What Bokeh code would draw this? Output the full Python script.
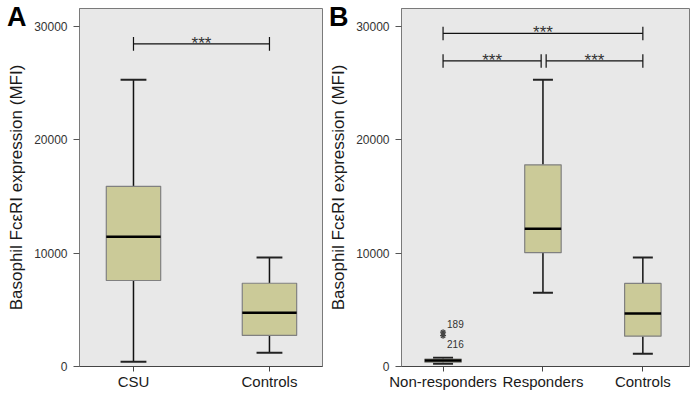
from bokeh.plotting import figure
from bokeh.layouts import row
from bokeh.models import ColumnDataSource, FixedTicker, Range1d, Div
from bokeh.transform import dodge
from bokeh.core.properties import value
from bokeh.embed import file_html
from bokeh.resources import INLINE

# ---------------- data ----------------
cats_a = ["CSU", "Controls"]
low_a = [410, 1210]
q1_a = [7590, 2740]
med_a = [11450, 4740]
q3_a = [15900, 7350]
high_a = [25300, 9620]

cats_b = ["Non-responders", "Responders", "Controls"]
low_b = [250, 6500, 1130]
q1_b = [380, 10050, 2680]
med_b = [520, 12150, 4680]
q3_b = [660, 17800, 7330]
high_b = [780, 25300, 9620]

outlier_cat = ["Non-responders", "Non-responders"]
outlier_val = [3030, 2720]
outlier_id = ["189", "216"]

sig_a = [("CSU", "Controls", 28480, "***")]
sig_b = [("Non-responders", "Controls", 29400, "***"),
         ("Non-responders", "Responders", 26970, "***"),
         ("Responders", "Controls", 26970, "***")]

y_ticks = [0, 10000, 20000, 30000]

FONT = "Liberation Sans"
FONT_VALUE = value(FONT)
BOX_FILL = "#CBCA98"
FRAME_BG = "#E8E8E8"


def make_panel(cats, low, q1, med, q3, high, sig, frame_w,
               border_left, border_right, x_pad_left, x_pad_right,
               box_w, cap_w):
    n = len(cats)
    xs = list(range(1, n + 1))
    x0 = 1 - x_pad_left
    x1 = n + x_pad_right
    p = figure(frame_width=frame_w, frame_height=358, output_backend="svg", toolbar_location=None,
               x_range=Range1d(x0, x1), y_range=Range1d(0, 31600),
               min_border_left=border_left, min_border_right=border_right,
               min_border_top=8, min_border_bottom=21)
    p.background_fill_color = FRAME_BG
    p.border_fill_color = "white"
    p.outline_line_color = "#7a7a7a"
    p.outline_line_width = 1
    p.xgrid.visible = False
    p.ygrid.visible = False

    src = ColumnDataSource(dict(x=xs, low=low, q1=q1, med=med, q3=q3, high=high))
    # whiskers
    p.segment(x0="x", y0="q3", x1="x", y1="high", source=src, line_color="#111111", line_width=1.5)
    p.segment(x0="x", y0="q1", x1="x", y1="low", source=src, line_color="#111111", line_width=1.5)
    # caps
    p.segment(x0=dodge("x", -cap_w / 2), y0="high", x1=dodge("x", cap_w / 2), y1="high",
              source=src, line_color="#222222", line_width=2)
    p.segment(x0=dodge("x", -cap_w / 2), y0="low", x1=dodge("x", cap_w / 2), y1="low",
              source=src, line_color="#222222", line_width=2)
    # boxes
    p.vbar(x="x", width=box_w, bottom="q1", top="q3", source=src,
           fill_color=BOX_FILL, line_color="#808080", line_width=1.2)
    # median
    p.segment(x0=dodge("x", -box_w / 2), y0="med", x1=dodge("x", box_w / 2), y1="med",
              source=src, line_color="#000000", line_width=2.5)

    # significance brackets
    idx = {c: i + 1 for i, c in enumerate(cats)}
    bx0, bx1, by, tx, ty, tt = [], [], [], [], [], []
    ends = {}
    for a, b, yv, t in sig:
        ends.setdefault(yv, []).append((idx[a], idx[b]))
    for a, b, yv, t in sig:
        xa, xb = idx[a], idx[b]
        shared = [e for e in ends[yv] if (e[0], e[1]) != (xa, xb)]
        if any(e[0] == xb for e in shared):
            xb = xb - 0.018
        if any(e[1] == xa for e in shared):
            xa = xa + 0.032
        bx0.append(xa); bx1.append(xb); by.append(yv)
        tx.append((xa + xb) / 2); ty.append(yv + 60); tt.append(t)
    bsrc = ColumnDataSource(dict(x0=bx0, x1=bx1, y=by, lo=[v - 600 for v in by], hi=[v + 600 for v in by]))
    p.segment(x0="x0", y0="y", x1="x1", y1="y", source=bsrc, line_color="#111111", line_width=1.2)
    p.segment(x0="x0", y0="lo", x1="x0", y1="hi", source=bsrc, line_color="#111111", line_width=1.2)
    p.segment(x0="x1", y0="lo", x1="x1", y1="hi", source=bsrc, line_color="#111111", line_width=1.2)
    p.text(x=tx, y=ty, text=tt, text_align="center", text_baseline="alphabetic",
           text_font_size="17px", text_color="#333333", text_font=FONT_VALUE)

    # axes
    p.xaxis.ticker = FixedTicker(ticks=xs)
    p.xaxis.major_label_overrides = {x: c for x, c in zip(xs, cats)}
    p.xaxis.major_label_text_font = FONT
    p.xaxis.major_label_text_font_size = "15px"
    p.xaxis.major_label_text_color = "#1a1a1a"
    p.xaxis.major_label_standoff = 1
    p.xaxis.major_tick_out = 5
    p.xaxis.major_tick_in = 0
    p.xaxis.minor_tick_line_color = None
    p.xaxis.axis_line_color = "#444444"
    p.xaxis.major_tick_line_color = "#444444"

    p.yaxis.ticker = FixedTicker(ticks=y_ticks)
    p.yaxis.major_label_text_font = FONT
    p.yaxis.major_label_text_font_size = "12px"
    p.yaxis.major_label_text_color = "#333333"
    p.yaxis.major_label_standoff = 6
    p.yaxis.major_tick_out = 6
    p.yaxis.major_tick_in = 0
    p.yaxis.minor_tick_line_color = None
    p.yaxis.axis_line_color = "#7a7a7a"
    p.yaxis.major_tick_line_color = "#555555"
    p.yaxis.axis_label = "Basophil Fc\u03b5RI expression (MFI)"
    p.yaxis.axis_label_text_font = FONT
    p.yaxis.axis_label_text_font_size = "17px"
    p.yaxis.axis_label_text_font_style = "normal"
    p.yaxis.axis_label_text_color = "#1a1a1a"
    p.yaxis.axis_label_standoff = 5
    return p


pa = make_panel(cats_a, low_a, q1_a, med_a, q3_a, high_a, sig_a,
                frame_w=243, border_left=79, border_right=4,
                x_pad_left=0.397, x_pad_right=0.39, box_w=0.40, cap_w=0.19)

pb = make_panel(cats_b, low_b, q1_b, med_b, q3_b, high_b, sig_b,
                frame_w=288, border_left=72, border_right=7,
                x_pad_left=0.416, x_pad_right=0.467, box_w=0.365, cap_w=0.2)

osrc = ColumnDataSource(dict(x=[cats_b.index(c) + 1 for c in outlier_cat], y=outlier_val, t=outlier_id))
pb.scatter(x="x", y="y", source=osrc, marker="asterisk", size=6, line_color="#444444", line_width=1.2)
pb.text(x=[osrc.data["x"][0]], y=[outlier_val[0]], text=[outlier_id[0]], x_offset=4, y_offset=-8,
        text_baseline="middle", text_font_size="10px", text_color="#333333", text_font=FONT_VALUE)
pb.text(x=[osrc.data["x"][1]], y=[outlier_val[1]], text=[outlier_id[1]], x_offset=4, y_offset=8,
        text_baseline="middle", text_font_size="10px", text_color="#333333", text_font=FONT_VALUE)

letter_style = {"position": "absolute", "top": "-2px", "font-family": FONT,
                "font-size": "27px", "font-weight": "bold", "color": "#000000",
                "line-height": "28px", "z-index": "10"}
div_a = Div(text="A", styles=dict(letter_style, left="2px"))
div_b = Div(text="B", styles=dict(letter_style, left="324px"))

layout = row(pa, pb, div_a, div_b)
open("out.html", "w").write(file_html(layout, INLINE))
